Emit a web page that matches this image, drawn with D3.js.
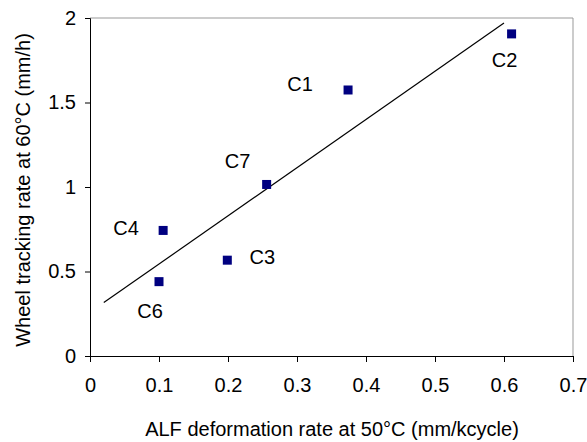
<!DOCTYPE html>
<html>
<head>
<meta charset="utf-8">
<script src="https://cdn.jsdelivr.net/npm/d3@7"></script>
<style>
  body { margin: 0; background: #fff; }
  svg { font-family: "Liberation Sans", Arial, sans-serif; }
</style>
</head>
<body>
<div id="chart"></div>
<script>
// data
var mixes = ["C1", "C2", "C7", "C4", "C3", "C6"];
var alfRate = [0.374, 0.611, 0.256, 0.106, 0.199, 0.100];
var wheelRate = [1.574, 1.906, 1.015, 0.743, 0.567, 0.440];
var trendX = [0.02, 0.60];
var trendY = [0.316, 1.970];
var xTicks = [0, 0.1, 0.2, 0.3, 0.4, 0.5, 0.6, 0.7];
var yTicks = [0, 0.5, 1, 1.5, 2];

// label placement (pixels, relative to marker)
var labelOffset = {
    C1: [-48, -6], C2: [-7, 26], C7: [-29, -23],
    C4: [-37, -2], C3: [35, -3], C6: [-9, 29]
};

var W = 587, H = 442;
var mLeft = 90, mRight = 573, mTop = 18, mBottom = 356;
var fs = 20;

var svg = d3.select("#chart").append("svg")
    .attr("width", W).attr("height", H);

var x = d3.scaleLinear().domain([0, 0.7]).range([mLeft, mRight]);
var y = d3.scaleLinear().domain([0, 2]).range([mBottom, mTop]);

// plot frame (top/right grey)
svg.append("path")
    .attr("d", "M" + mLeft + "," + mTop + "H" + mRight + "V" + mBottom)
    .attr("fill", "none").attr("stroke", "#999").attr("stroke-width", 1);

var xAxis = svg.append("g")
    .attr("transform", "translate(0," + mBottom + ")")
    .call(d3.axisBottom(x).tickValues(xTicks).tickSize(6).tickPadding(16)
        .tickFormat(d3.format("")));
var yAxis = svg.append("g")
    .attr("transform", "translate(" + mLeft + ",0)")
    .call(d3.axisLeft(y).tickValues(yTicks).tickSize(5).tickPadding(9)
        .tickFormat(d3.format("")));

[xAxis, yAxis].forEach(function(a){
    a.select(".domain").attr("stroke", "#000");
    a.selectAll(".tick line").attr("stroke", "#000");
    a.selectAll("text").attr("font-size", fs).attr("fill", "#000")
        .attr("font-family", "Liberation Sans, Arial, sans-serif");
});

// trend line
var line = d3.line().x(function(d){ return x(d[0]); }).y(function(d){ return y(d[1]); });
svg.append("path")
    .datum(d3.zip(trendX, trendY))
    .attr("d", line)
    .attr("fill", "none").attr("stroke", "#000").attr("stroke-width", 1.2);

// markers
var pts = mixes.map(function(m, i){ return {name: m, x: alfRate[i], y: wheelRate[i]}; });
var s = 9;
svg.selectAll("rect.pt").data(pts).enter().append("rect")
    .attr("class", "pt")
    .attr("x", function(d){ return x(d.x) - s / 2; })
    .attr("y", function(d){ return y(d.y) - s / 2; })
    .attr("width", s).attr("height", s)
    .attr("fill", "#000080");

svg.selectAll("text.lbl").data(pts).enter().append("text")
    .attr("class", "lbl")
    .attr("x", function(d){ return x(d.x) + labelOffset[d.name][0]; })
    .attr("y", function(d){ return y(d.y) + labelOffset[d.name][1]; })
    .attr("text-anchor", "middle").attr("dy", "0.35em")
    .attr("font-size", fs)
    .text(function(d){ return d.name; });

// axis titles
svg.append("text")
    .attr("x", 332).attr("y", 436)
    .attr("text-anchor", "middle").attr("font-size", fs)
    .text("ALF deformation rate at 50°C (mm/kcycle)");
svg.append("text")
    .attr("transform", "translate(30,190) rotate(-90)")
    .attr("text-anchor", "middle").attr("font-size", fs)
    .text("Wheel tracking rate at 60°C (mm/h)");
</script>
</body>
</html>
